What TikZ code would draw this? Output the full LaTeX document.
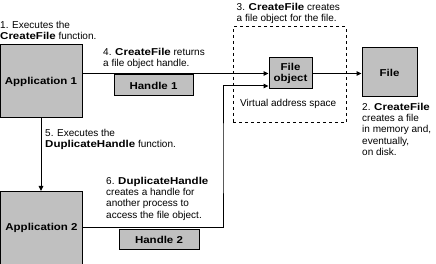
\documentclass[tikz,border=0pt]{standalone}
\usepackage{fontspec}
\setmainfont{Liberation Sans}[BoldFeatures={FakeStretch=1.15}]
\usepackage{tikz}
\usetikzlibrary{positioning,arrows.meta,calc}
\definecolor{boxgray}{RGB}{192,192,192}
\tikzset{
  flowarrow/.style={-{Triangle[length=5pt,width=4.5pt]}, line width=1pt},
  plainline/.style={line width=1pt},
  appbox/.style={draw, line width=1pt, fill=boxgray, minimum width=82pt, minimum height=73pt, align=center, font=\bfseries},
  handlebox/.style={draw, line width=1pt, fill=boxgray, minimum width=79pt, minimum height=21pt, align=center, font=\bfseries},
  objbox/.style={draw, line width=1pt, fill=boxgray, align=center, font=\bfseries\linespread{0.9}\selectfont},
  vasbox/.style={draw, dashed, line width=1pt, dash pattern=on 3pt off 3pt, minimum width=113pt, minimum height=96pt},
  note/.style={anchor=north west, inner sep=0pt, align=left, font=\fontsize{10}{11.2}\selectfont}
}

\begin{document}
\begin{tikzpicture}[x=1pt, y=-1pt]
      \useasboundingbox (0,0) rectangle (436,264);
      % boxes
      \node[vasbox] (vas) at (289.5,75) {};
      \node[appbox] (app1) at (41,81.5) {Application 1};
      \node[appbox] (app2) at (41.5,228) {Application 2};
      \node[handlebox] (h1) at (153.5,85.5) {Handle 1};
      \node[handlebox, minimum width=80pt, minimum height=20pt] (h2) at (159,240) {Handle 2};
      \node[objbox, minimum width=43pt, minimum height=31pt, inner sep=0pt] (fobj) at (290.5,73.5) {File\\object};
      \node[objbox, minimum width=55pt, minimum height=49pt] (file) at (389.5,72.5) {File};
      \coordinate (vbend) at (223,160);
      % texts
      \node[note] (t1) at (0,20.8) {1. Executes the\\\textbf{CreateFile} function.};
      \node[note] (t4) at (103,48) {4. \textbf{CreateFile} returns\\a file object handle.};
      \node[note] (t3) at (236.5,3) {3. \textbf{CreateFile} creates\\a file object for the file.};
      \node[note] (vlabel) at (240,99) {Virtual address space};
      \node[note] (t2) at (362,103) {2. \textbf{CreateFile}\\creates a file\\in memory and,\\eventually,\\on disk.};
      \node[note] (t5) at (45,129) {5. Executes the\\\textbf{DuplicateHandle} function.};
      \node[note] (t6) at (106,177) {6. \textbf{DuplicateHandle}\\creates a handle for\\another process to\\access the file object.};
      % connectors
      \draw[flowarrow] (app1.east |- fobj.west) -- (fobj.west);
      \draw[flowarrow] (fobj.east) -- (fobj.east -| file.west);
      \draw[flowarrow] (app1.south) -- (app1.south |- app2.north);
      \draw[flowarrow] (app2.east) -| (vbend) |- ([yshift=-12.5pt]fobj.west);
    \end{tikzpicture}
\end{document}
